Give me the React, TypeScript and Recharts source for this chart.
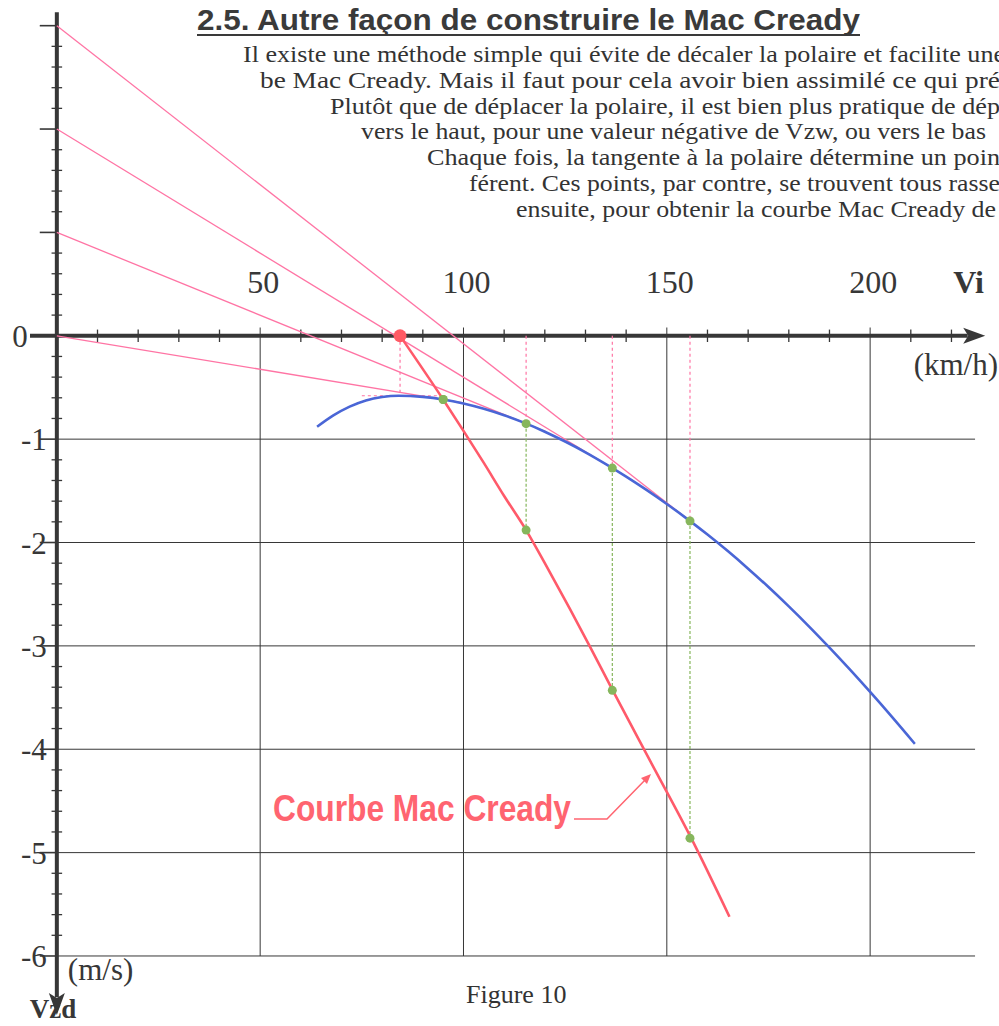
import React from 'react'
import {
  ComposedChart, Line, Scatter, XAxis, YAxis, ReferenceLine, ReferenceDot,
} from 'recharts'

// ── Données ───────────────────────────────────────────────────────────────────

// polaire des vitesses : Vi (km/h) / Vzd (m/s)
const polarVi = [64, 68, 72, 76, 80, 84, 90, 95, 100, 105, 110, 115, 120, 125, 130, 135, 140, 145, 150, 155, 160, 165, 170, 175, 180, 185, 190, 195, 200, 205, 211]
const polarVz = [-0.88, -0.77, -0.685, -0.625, -0.592, -0.58, -0.591, -0.616, -0.655, -0.706, -0.769, -0.843, -0.928, -1.023, -1.127, -1.241, -1.362, -1.491, -1.627, -1.771, -1.923, -2.083, -2.253, -2.431, -2.618, -2.813, -3.017, -3.228, -3.446, -3.67, -3.948]

// courbe Mac Cready
const mcCurveVi = [84.4, 95, 100, 105, 110, 115.4, 120, 126, 131, 136.7, 146, 156, 165.4]
const mcCurveVz = [0, -0.616, -0.92, -1.23, -1.55, -1.88, -2.2, -2.63, -3.0, -3.43, -4.12, -4.86, -5.62]

// réglages Mac Cready (m/s) et points de tangence sur la polaire
const mcSettings = [0, 1, 2, 3]
const tangentVi = [95, 115.4, 136.6, 155.7]
const tangentVz = [-0.616, -0.85, -1.28, -1.792]
// points reportés sur la courbe Mac Cready
const reportedVz = [-0.616, -1.88, -3.43, -4.86]

// taux de chute mini
const minSinkVi = 84.4
const minSinkVz = -0.58

// graduations
const xGridTicks = [50, 100, 150, 200]
const xTickLabels = ['50', '100', '150', '200']
const xMinorTicks = [10, 20, 30, 40, 60, 70, 80, 90, 110, 120, 130, 140, 160, 170, 180, 190, 210, 220]
const yGridTicks = [-1, -2, -3, -4, -5, -6]
const yMajorTicks = [3, 2, 1, 0, -1, -2, -3, -4, -5, -6]
const yTickValues = [0, -1, -2, -3, -4, -5, -6]
const yTickLabels = ['0', '-1', '-2', '-3', '-4', '-5', '-6']

const paragraph = [
  'Il existe une méthode simple qui évite de décaler la polaire et facilite une',
  'be Mac Cready. Mais il faut pour cela avoir bien assimilé ce qui pré',
  'Plutôt que de déplacer la polaire, il est bien plus pratique de dép',
  'vers le haut, pour une valeur négative de Vzw, ou vers le bas',
  'Chaque fois, la tangente à la polaire détermine un poin',
  'férent. Ces points, par contre, se trouvent tous rasse',
  'ensuite, pour obtenir la courbe Mac Cready de',
]
const paraStart = [243, 260, 330, 361, 427, 469, 516]
const paraEnd = [1005, 1000, 1000, 986, 1000, 1000, 996]

// ── Styles ────────────────────────────────────────────────────────────────────

const W = 999
const H = 1026
const INK = '#373737'
const BLUE = '#4a66d6'
const RED = '#ff5a6a'
const PINK = '#ff74a4'
const GREEN = '#86b65c'
const SERIF = '"Liberation Serif", "Times New Roman", serif'
const SANS = '"Liberation Sans Narrow", "Arial Narrow", "Liberation Sans", Arial, sans-serif'

const polarData = polarVi.map((x, i) => ({ x, y: polarVz[i] }))
const mcCurveData = mcCurveVi.map((x, i) => ({ x, y: mcCurveVz[i] }))
const tangentPts = tangentVi.map((x, i) => ({ x, y: tangentVz[i] }))
const reportedPts = tangentVi.map((x, i) => ({ x, y: reportedVz[i] }))

// tangentes issues de (0, Vmc), prolongées un peu au-delà du point de contact
const tangents = mcSettings.map((v, i) => {
  const slope = (tangentVz[i] - v) / tangentVi[i]
  const xe = tangentVi[i] + 5
  return [{ x: 0, y: v }, { x: xe, y: v + slope * xe }]
})

const yMinorTicks: number[] = []
for (let v = 3; v >= -6; v -= 0.2) {
  const r = Math.round(v * 10) / 10
  if (!Number.isInteger(r)) yMinorTicks.push(r)
}

function textShape(text: string, dx: number, dy: number, props: React.SVGProps<SVGTextElement>) {
  return (p: any) => (
    <text x={p.cx + dx} y={p.cy + dy} fill={INK} fontFamily={SERIF} {...props}>{text}</text>
  )
}

const dot = (r: number, fill: string) => (p: any) => (
  <circle cx={p.cx} cy={p.cy} r={r} fill={fill} />
)

const arrowRight = (p: any) => (
  <polygon points={`${p.cx},${p.cy} ${p.cx - 22},${p.cy - 8} ${p.cx - 17},${p.cy} ${p.cx - 22},${p.cy + 8}`} fill={INK} />
)
const arrowDown = (p: any) => (
  <polygon points={`${p.cx},${p.cy} ${p.cx - 8},${p.cy - 22} ${p.cx},${p.cy - 17} ${p.cx + 8},${p.cy - 22}`} fill={INK} />
)

// ── Component ─────────────────────────────────────────────────────────────────

export default function App() {
  return (
    <div style={{ position: 'absolute', left: 0, top: 0, width: W, height: H, background: '#fff', overflow: 'hidden' }}>
      <ComposedChart width={W} height={H} margin={{ top: 5, right: 15, bottom: 8, left: 30 }}>
        <XAxis type="number" dataKey="x" domain={[-6.6, 228]} hide allowDataOverflow />
        <YAxis type="number" dataKey="y" domain={[-6.6, 3.2]} hide allowDataOverflow />

        {/* quadrillage */}
        {yGridTicks.map((v) => (
          <ReferenceLine key={`hg${v}`} segment={[{ x: 0, y: v }, { x: 225.8, y: v }]} stroke={INK} strokeWidth={1} ifOverflow="visible" />
        ))}
        {xGridTicks.map((v) => (
          <ReferenceLine key={`vg${v}`} segment={[{ x: v, y: 0.08 }, { x: v, y: -6 }]} stroke={INK} strokeWidth={1} ifOverflow="visible" />
        ))}

        {/* graduations */}
        {xMinorTicks.map((v) => (
          <ReferenceLine key={`xt${v}`} segment={[{ x: v, y: 0.06 }, { x: v, y: -0.06 }]} stroke={INK} strokeWidth={1.3} ifOverflow="visible" />
        ))}
        {yMinorTicks.map((v) => (
          <ReferenceLine key={`yt${v}`} segment={[{ x: -1.3, y: v }, { x: 1.3, y: v }]} stroke={INK} strokeWidth={1.3} ifOverflow="visible" />
        ))}
        {yMajorTicks.map((v) => (
          <ReferenceLine key={`ym${v}`} segment={[{ x: -4.2, y: v }, { x: 0, y: v }]} stroke={INK} strokeWidth={1.6} ifOverflow="visible" />
        ))}

        {/* axes */}
        <ReferenceLine segment={[{ x: -6.6, y: 0 }, { x: 224, y: 0 }]} stroke={INK} strokeWidth={4} ifOverflow="visible" />
        <ReferenceLine segment={[{ x: 0, y: 3.13 }, { x: 0, y: -6.4 }]} stroke={INK} strokeWidth={4} ifOverflow="visible" />
        <ReferenceDot x={228.3} y={0} r={1} shape={arrowRight} ifOverflow="visible" />
        <ReferenceDot x={0} y={-6.57} r={1} shape={arrowDown} ifOverflow="visible" />

        {/* tangentes et rappels */}
        {tangents.map((seg, i) => (
          <ReferenceLine key={`tg${i}`} segment={seg} stroke={PINK} strokeWidth={1.3} ifOverflow="visible" />
        ))}
        {tangentVi.slice(1).map((x, i) => (
          <ReferenceLine key={`pv${i}`} segment={[{ x, y: 0 }, { x, y: tangentVz[i + 1] }]} stroke={PINK} strokeWidth={1.2} strokeDasharray="3 3" ifOverflow="visible" />
        ))}
        {tangentVi.slice(1).map((x, i) => (
          <ReferenceLine key={`gv${i}`} segment={[{ x, y: tangentVz[i + 1] }, { x, y: reportedVz[i + 1] }]} stroke={GREEN} strokeWidth={1.2} strokeDasharray="3 2" ifOverflow="visible" />
        ))}
        <ReferenceLine segment={[{ x: minSinkVi, y: 0 }, { x: minSinkVi, y: minSinkVz }]} stroke={PINK} strokeWidth={1.2} strokeDasharray="3 3" ifOverflow="visible" />
        <ReferenceLine segment={[{ x: 75, y: minSinkVz }, { x: 94.2, y: minSinkVz }]} stroke={PINK} strokeWidth={1.2} strokeDasharray="3 3" ifOverflow="visible" />

        {/* polaire et courbe Mac Cready */}
        <Line data={polarData} dataKey="y" type="monotone" stroke={BLUE} strokeWidth={2.6} dot={false} isAnimationActive={false} />
        <Line data={mcCurveData} dataKey="y" type="monotone" stroke={RED} strokeWidth={2.6} dot={false} isAnimationActive={false} />
        <Scatter data={tangentPts} shape={dot(4.5, GREEN)} isAnimationActive={false} />
        <Scatter data={reportedPts} shape={dot(4.5, GREEN)} isAnimationActive={false} />
        <ReferenceDot x={minSinkVi} y={0} r={6.5} shape={dot(6.5, '#ff5a64')} ifOverflow="visible" />

        {/* libellés des axes */}
        {xGridTicks.map((v, i) => (
          <ReferenceDot key={`xl${v}`} x={v} y={0} r={1} ifOverflow="visible"
            shape={textShape(xTickLabels[i], 3, -43, { fontSize: 32, textAnchor: 'middle' })} />
        ))}
        {yTickValues.map((v, i) => (
          <ReferenceDot key={`yl${v}`} x={0} y={v} r={1} ifOverflow="visible"
            shape={textShape(yTickLabels[i], v === 0 ? -29 : -10, 11, { fontSize: 31, textAnchor: 'end' })} />
        ))}
        <ReferenceDot x={228} y={0} r={1} ifOverflow="visible"
          shape={textShape('Vi', 0, -43, { fontSize: 32, fontWeight: 700, textAnchor: 'end' })} />
        <ReferenceDot x={228} y={0} r={1} ifOverflow="visible"
          shape={textShape('(km/h)', 14, 39, { fontSize: 31, textAnchor: 'end' })} />
        <ReferenceDot x={0} y={-6.6} r={1} ifOverflow="visible"
          shape={textShape('(m/s)', 11, -38, { fontSize: 31 })} />
        <ReferenceDot x={0} y={-6.6} r={1} ifOverflow="visible"
          shape={textShape('Vzd', -27, 0, { fontSize: 27, fontWeight: 700 })} />
      </ComposedChart>

      <svg width={W} height={H} style={{ position: 'absolute', left: 0, top: 0, pointerEvents: 'none' }}>
        <text x={197} y={30} fontFamily={SANS} fontWeight={700} fontSize={30} fill="#3a3a3a"
          textLength={663} lengthAdjust="spacingAndGlyphs">
          2.5. Autre façon de construire le Mac Cready
        </text>
        <line x1={197} y1={35} x2={860} y2={35} stroke="#3a3a3a" strokeWidth={2} />
        {paragraph.map((t, i) => (
          <text key={i} x={paraStart[i]} y={62 + i * 25.8} fontFamily={SERIF} fontSize={24} fill="#333"
            textLength={paraEnd[i] - paraStart[i]} lengthAdjust="spacingAndGlyphs">
            {t}
          </text>
        ))}
        <text x={466} y={1003} fontFamily={SERIF} fontSize={26} fill="#333">Figure 10</text>

        <text x={273} y={821} fontFamily={SANS} fontWeight={700} fontSize={36} fill="#ff6470"
          textLength={298} lengthAdjust="spacingAndGlyphs">
          Courbe Mac Cready
        </text>
        <polyline points="574,819 607,819 646,779" fill="none" stroke="#ff6470" strokeWidth={1.5} />
        <polygon points="651,774 641,778 647,784" fill="#ff6470" />
      </svg>
    </div>
  )
}
